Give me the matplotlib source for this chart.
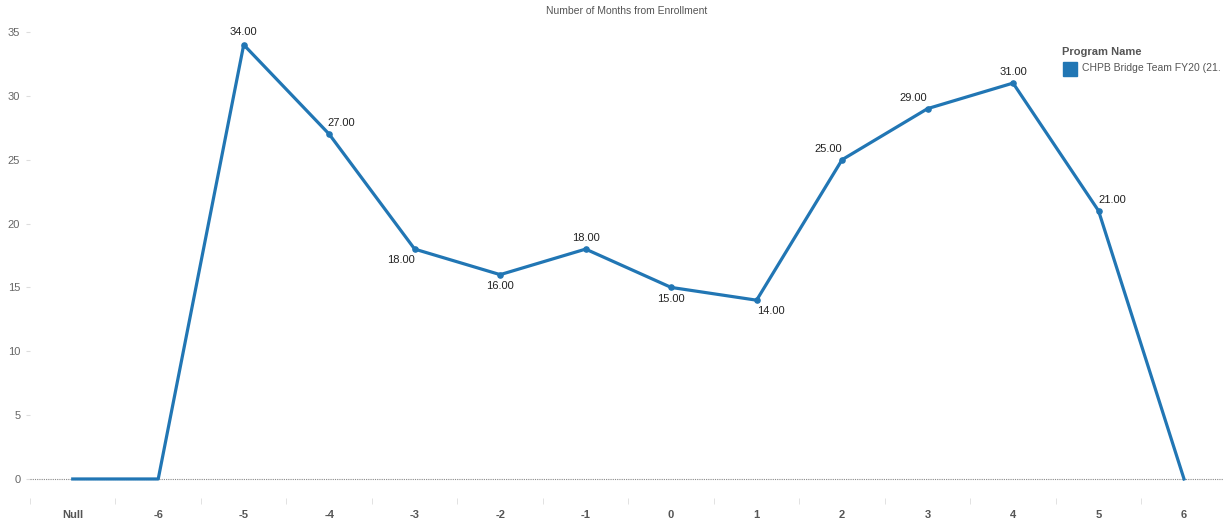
import numpy as np
import matplotlib
matplotlib.use("Agg")
import matplotlib.pyplot as plt
from matplotlib.patches import Rectangle

plt.rcParams["font.family"] = ["Liberation Sans", "DejaVu Sans"]

# データ
months = ["Null", "-6", "-5", "-4", "-3", "-2", "-1", "0", "1", "2", "3", "4", "5", "6"]
counts = [0, 0, 34, 27, 18, 16, 18, 15, 14, 25, 29, 31, 21, 0]
show_label = [False, False, True, True, True, True, True, True, True, True, True, True, True, False]
# ラベルの置き場所 (x方向, y方向 in points)
label_pos = [None, None, (0, 9), (9, 8), (-10, -8), (0, -8), (0, 8), (0, -8),
             (10, -8), (-10, 8), (-10, 8), (0, 8), (10, 8), None]

blue = "#2176b4"
grey_txt = "#666666"

fig = plt.figure(figsize=(12.23, 5.23), dpi=100)
ax = fig.add_axes([30 / 1223, (523 - 498) / 523, 1193 / 1223, 478 / 523])

x = np.arange(len(months))
ax.plot(x, counts, color=blue, lw=2.3, zorder=3)
ax.scatter(x[2:13], np.array(counts)[2:13], s=14, color=blue, zorder=4)

for i, (v, show, pos) in enumerate(zip(counts, show_label, label_pos)):
    if not show:
        continue
    ax.annotate(f"{v:.2f}", (i, v), xytext=pos, textcoords="offset points",
                ha="center", va="center", fontsize=8, color="#222222")

ax.axhline(0, color="#888888", lw=0.8, ls=(0, (1, 1)), zorder=2)

ax.set_xlim(-0.491, 13.456)
ax.set_ylim(-1.49, 35.94)

ax.set_xticks(x)
ax.set_xticklabels(months, fontsize=8, fontweight="bold", color="#555555")
ax.set_xticks(np.arange(-0.5, 13.5, 1), minor=True)
ax.tick_params(axis="x", which="major", length=0, pad=9)
ax.tick_params(axis="x", which="minor", length=4, color="#dddddd", direction="out", pad=0)

ax.set_yticks(np.arange(0, 36, 5))
ax.tick_params(axis="y", length=3, color="#dddddd", labelsize=8, labelcolor=grey_txt, pad=4)

for s in ax.spines.values():
    s.set_visible(False)

fig.text(627 / 1223, 1 - 11 / 523, "Number of Months from Enrollment",
         ha="center", va="center", fontsize=7.5, color="#555555")

# 凡例
fig.text(1062 / 1223, 1 - 52 / 523, "Program Name", ha="left", va="center",
         fontsize=8, fontweight="bold", color="#555555")
fig.patches.append(Rectangle((1063 / 1223, 1 - 76 / 523), 14 / 1223, 14 / 523,
                             transform=fig.transFigure, color=blue))
fig.text(1082 / 1223, 1 - 68 / 523, "CHPB Bridge Team FY20 (21.", ha="left", va="center",
         fontsize=7.5, color="#555555")

fig.savefig("out.png", dpi=100)
